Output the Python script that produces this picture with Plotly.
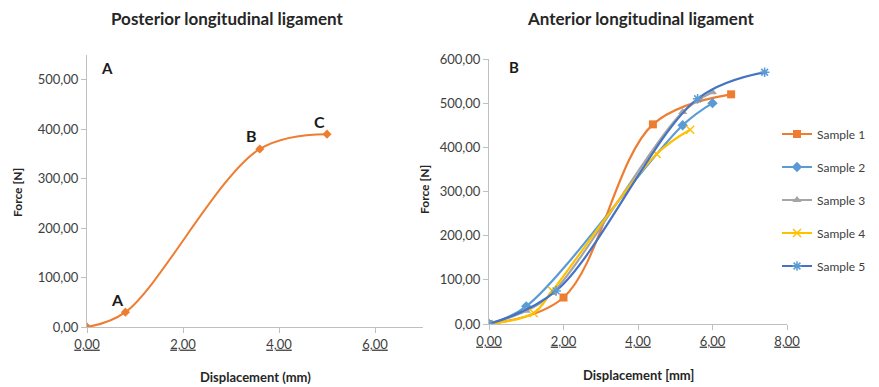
import plotly.graph_objects as go

# Panel A: posterior longitudinal ligament
pll_disp = [0.0, 0.8, 3.6, 5.0]
pll_force = [0, 30, 360, 390]
pll_labels = ["", "A", "B", "C"]

# Panel B: anterior longitudinal ligament
samples = ["Sample 1", "Sample 2", "Sample 3", "Sample 4", "Sample 5"]
s1_x = [0.0, 2.0, 4.4, 6.5]
s1_y = [0, 60, 452, 520]
s2_x = [0.0, 1.0, 5.2, 6.0]
s2_y = [0, 40, 450, 500]
s3_x = [0.0, 1.0, 1.7, 5.2, 6.0]
s3_y = [0, 30, 70, 480, 525]
s4_x = [0.0, 1.2, 1.7, 4.5, 5.4]
s4_y = [0, 25, 75, 385, 440]
s5_x = [0.0, 1.8, 5.6, 7.4]
s5_y = [0, 75, 510, 570]

colors = ["#ED7D31", "#5B9BD5", "#A5A5A5", "#FFC000", "#4472C4"]
symbols = ["square", "diamond", "triangle-up", "x-thin", "asterisk"]

FONT = "Lato, Open Sans, sans-serif"
AXC = "#BFBFBF"
TXT = "#404040"
DARK = "#262626"

# page has an 8px body margin; work in window pixels
OFF = 8
W, H = 879 - OFF, 387 - OFF
def px(x):
    return (x - OFF) / W
def py(y):
    return 1 - (y - OFF) / H

fig = go.Figure()

fig.add_trace(go.Scatter(
    x=pll_disp, y=pll_force, mode="lines+markers",
    line=dict(color="#ED7D31", width=2, shape="spline", smoothing=1.0),
    marker=dict(symbol="diamond", size=7, color="#ED7D31"),
    xaxis="x", yaxis="y", showlegend=False))

xs = [s1_x, s2_x, s3_x, s4_x, s5_x]
ys = [s1_y, s2_y, s3_y, s4_y, s5_y]
for i, name in enumerate(samples):
    msym = symbols[i]
    mk = dict(symbol=msym, size=8, color=colors[i])
    if msym in ("x-thin", "asterisk"):
        mk["line"] = dict(color=colors[i] if i == 3 else "#5B9BD5", width=1.5)
    fig.add_trace(go.Scatter(
        x=xs[i], y=ys[i], mode="lines+markers", name=name,
        line=dict(color=colors[i], width=2.2, shape="spline", smoothing=1.0),
        marker=mk, xaxis="x2", yaxis="y2", legendgroup=name))

def fmt(v):
    return f"{v:.2f}".replace(".", ",")

ytA = [0, 100, 200, 300, 400, 500]
xtA = [0, 2, 4, 6]
ytB = [0, 100, 200, 300, 400, 500, 600]
xtB = [0, 2, 4, 6, 8]

axis_common = dict(showgrid=False, zeroline=False, showline=True, linecolor=AXC,
                   linewidth=1, ticks="outside", tickcolor=AXC, ticklen=5,
                   automargin=False,
                   tickfont=dict(family=FONT, size=13, color=TXT))

fig.update_layout(
    width=W, height=H,
    margin=dict(l=0, r=0, t=0, b=0),
    paper_bgcolor="white", plot_bgcolor="white",
    font=dict(family=FONT, color=TXT),
    xaxis=dict(domain=[px(87), px(423)], range=[0, 7], tickvals=xtA,
               ticktext=[f"<u>{fmt(v)}</u>" for v in xtA], anchor="y",
               **axis_common),
    yaxis=dict(domain=[py(327), py(55)], range=[0, 550], tickvals=ytA,
               ticktext=[fmt(v) for v in ytA], anchor="x",
               **axis_common),
    xaxis2=dict(domain=[px(489), px(787)], range=[0, 8], tickvals=xtB,
                ticktext=[f"<u>{fmt(v)}</u>" for v in xtB], anchor="y2",
                **axis_common),
    yaxis2=dict(domain=[py(324), py(59)], range=[0, 600], tickvals=ytB,
                ticktext=[fmt(v) for v in ytB], anchor="x2",
                **axis_common),
    legend=dict(x=px(777), y=py(200), xanchor="left", yanchor="middle",
                font=dict(family=FONT, size=12, color=TXT),
                tracegroupgap=14, itemwidth=30, bgcolor="rgba(0,0,0,0)"),
)

def ann(text, x, y, size, angle=0, color=DARK):
    return dict(text=text, x=px(x), y=py(y), xref="paper", yref="paper",
                xanchor="center", yanchor="middle", showarrow=False, textangle=angle,
                font=dict(size=size, color=color))

annotations = [
    ann("<b>Posterior longitudinal ligament</b>", 227, 18, 17),
    ann("<b>Anterior longitudinal ligament</b>", 640, 18, 17),
    ann("<b>A</b>", 107, 68, 15, color="#1a1a1a"),
    ann("<b>B</b>", 514, 67, 15, color="#1a1a1a"),
    ann("<b>Displacement (mm)</b>", 255, 377, 13),
    ann("<b>Displacement [mm]</b>", 638, 375, 13),
    ann("<b>Force [N]</b>", 17, 193, 12, angle=-90),
    ann("<b>Force [N]</b>", 424, 190, 12, angle=-90),
]
for xv, yv, lab in zip(pll_disp, pll_force, pll_labels):
    if lab:
        annotations.append(dict(text=f"<b>{lab}</b>", x=xv, y=yv, xref="x", yref="y",
                                xanchor="center", yanchor="middle",
                                showarrow=False, xshift=-8, yshift=13,
                                font=dict(size=16, color="#1a1a1a")))
fig.update_layout(annotations=annotations)

fig.write_html("out.html")
